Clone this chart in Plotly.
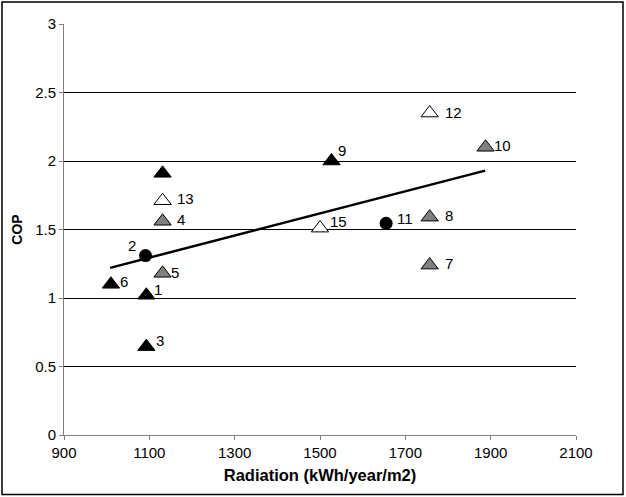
import plotly.graph_objects as go

# Data (radiation kWh/year/m2, COP, label)
black_x = [1093, 1093, 1010, 1527, 1131]
black_y = [1.02, 0.645, 1.10, 2.00, 1.91]
black_lbl = ["1", "3", "6", "9", ""]

gray_x = [1131, 1131, 1757, 1757, 1888]
gray_y = [1.56, 1.18, 1.24, 1.59, 2.10]
gray_lbl = ["4", "5", "7", "8", "10"]

white_x = [1757, 1131, 1500]
white_y = [2.35, 1.71, 1.51]
white_lbl = ["12", "13", "15"]

circle_x = [1091, 1655]
circle_y = [1.31, 1.545]
circle_lbl = ["2", "11"]

trend_x = [1008, 1887]
trend_y = [1.22, 1.93]

x_ticks = [900, 1100, 1300, 1500, 1700, 1900, 2100]
y_ticks = [0, 0.5, 1, 1.5, 2, 2.5, 3]
y_tick_text = ["0", "0.5", "1", "1.5", "2", "2.5", "3"]

FONT = "Liberation Sans, Arial, sans-serif"

# label pixel offsets (style)
offsets = {
    "1": (12, 6), "3": (14, 6), "6": (13, 3), "9": (10, 11),
    "4": (18, 2), "5": (12, 1), "7": (19, 2), "8": (19, 2), "10": (17, 2),
    "12": (24, 1), "13": (23, 2), "15": (18, 7),
    "2": (-13, 10), "11": (19, 5),
}

fig = go.Figure()

fig.add_trace(go.Scatter(x=trend_x, y=trend_y, mode="lines",
                         line=dict(color="black", width=2.5),
                         hoverinfo="skip", showlegend=False))

tri_line = dict(color="black", width=1)
fig.add_trace(go.Scatter(x=black_x, y=black_y, mode="markers",
                         marker=dict(symbol="triangle-up", size=15, color="black", line=tri_line),
                         showlegend=False))
fig.add_trace(go.Scatter(x=gray_x, y=gray_y, mode="markers",
                         marker=dict(symbol="triangle-up", size=15, color="#808080", line=tri_line),
                         showlegend=False))
fig.add_trace(go.Scatter(x=white_x, y=white_y, mode="markers",
                         marker=dict(symbol="triangle-up", size=15, color="white", line=tri_line),
                         showlegend=False))
fig.add_trace(go.Scatter(x=circle_x, y=circle_y, mode="markers",
                         marker=dict(symbol="circle", size=13, color="black"),
                         showlegend=False))

for xs, ys, ls in [(black_x, black_y, black_lbl), (gray_x, gray_y, gray_lbl),
                   (white_x, white_y, white_lbl), (circle_x, circle_y, circle_lbl)]:
    for x, y, l in zip(xs, ys, ls):
        if not l:
            continue
        dx, dy = offsets[l]
        fig.add_annotation(x=x, y=y, text=l, showarrow=False,
                           xshift=dx, yshift=dy,
                           font=dict(family=FONT, size=15, color="black"))

# outer border
fig.add_shape(type="rect", xref="paper", yref="paper",
              x0=(2 - 64) / 512, x1=(623 - 64) / 512,
              y0=(435.5 - 495) / 411.5, y1=(435.5 - 2) / 411.5,
              line=dict(color="black", width=1.5), fillcolor="rgba(0,0,0,0)")

fig.update_layout(
    width=626, height=497,
    margin=dict(l=64, r=50, t=24, b=61.5),
    paper_bgcolor="white", plot_bgcolor="white",
    font=dict(family=FONT, size=15, color="black"),
    xaxis=dict(range=[900, 2100], tickvals=x_ticks, showgrid=False,
               showline=True, linecolor="#808080", linewidth=1,
               ticks="outside", ticklen=4, tickcolor="#808080",
               tickfont=dict(size=15, color="black"), zeroline=False,
               title=dict(text="<b>Radiation (kWh/year/m2)</b>", font=dict(size=16.5), standoff=9)),
    yaxis=dict(range=[0, 3], tickvals=y_ticks, ticktext=y_tick_text,
               showgrid=True, gridcolor="black", gridwidth=1,
               showline=True, linecolor="#808080", linewidth=1,
               ticks="outside", ticklen=4, tickcolor="#808080",
               tickfont=dict(size=15, color="black"), zeroline=False,
               title=dict(text="<b>COP</b>", font=dict(size=14), standoff=9)),
)

fig.write_html("out.html", config={"displayModeBar": False},
               post_script="document.body.style.margin='0px';")
